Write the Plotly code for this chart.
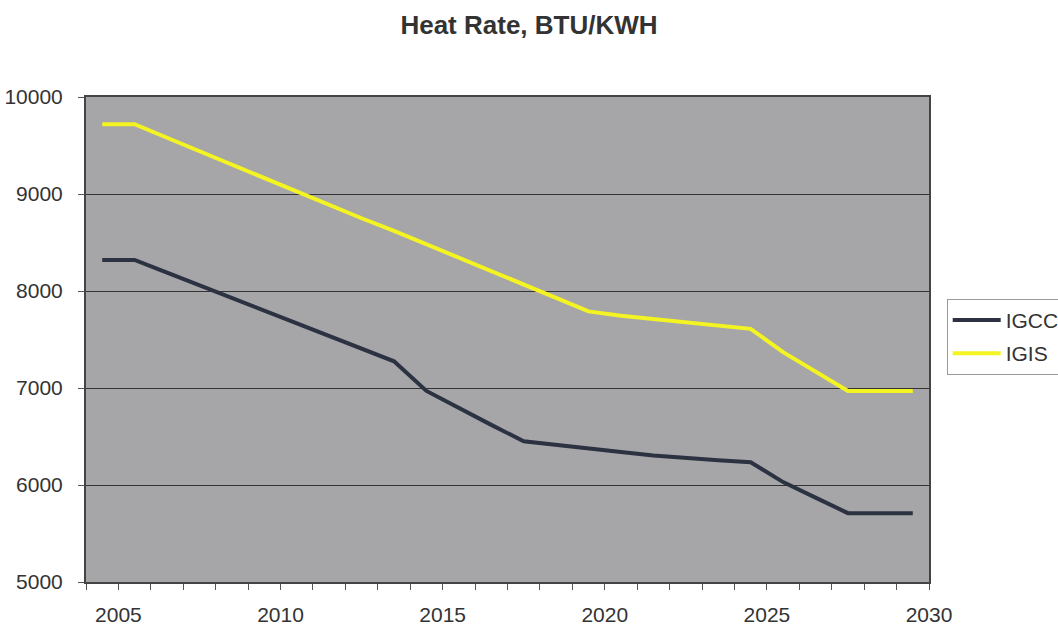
import plotly.graph_objects as go

years = list(range(2005, 2031))
igcc = [8320, 8320, 8190, 8060, 7930, 7800, 7670, 7540, 7410, 7275,
        6970, 6790, 6620, 6450, 6410, 6375, 6340, 6305, 6275, 6255,
        6235, 6030, 5870, 5710, 5710, 5710]
igis = [9720, 9720, 9580, 9440, 9300, 9170, 9030, 8890, 8750, 8620,
        8480, 8340, 8200, 8070, 7930, 7790, 7745, 7710, 7680, 7645,
        7610, 7370, 7170, 6970, 6970, 6970]
tick_years = list(range(2004, 2031))
label_years = [2005, 2010, 2015, 2020, 2025, 2030]
y_ticks = [5000, 6000, 7000, 8000, 9000, 10000]

FONT = "Liberation Sans, Arial, sans-serif"
xpos = [y - 0.5 for y in years]  # data plotted mid-category

fig = go.Figure()
fig.add_trace(go.Scatter(x=xpos, y=igcc, name="IGCC", mode="lines", legendgroup="a",
                         line=dict(color="#2c3242", width=4)))
fig.add_trace(go.Scatter(x=xpos, y=igis, name="IGIS", mode="lines", legendgroup="b",
                         line=dict(color="#f4f423", width=4)))

fig.update_layout(
    width=1058, height=625,
    paper_bgcolor="white", plot_bgcolor="#a6a6a8",
    margin=dict(l=86, r=129, t=97, b=43, autoexpand=False),
    title=dict(text="<b>Heat Rate, BTU/KWH</b>", x=0.5, xanchor="center",
               y=0.96, yanchor="middle",
               font=dict(family=FONT, size=26, color="#333333")),
    font=dict(family=FONT, size=21, color="#333333"),
    showlegend=True,
    legend=dict(x=1.021, y=0.584, xanchor="left", yanchor="top",
                bgcolor="white", bordercolor="#999999", borderwidth=1,
                font=dict(family=FONT, size=21, color="#333333"),
                itemwidth=48, tracegroupgap=3),
)
fig.update_xaxes(
    range=[2004, 2030], tickvals=tick_years,
    ticktext=[str(t) if t in label_years else "" for t in tick_years],
    ticks="outside", ticklen=6, tickcolor="#555555", tickwidth=1,
    showline=True, linecolor="#444444", linewidth=2, mirror=True,
    showgrid=False, zeroline=False, ticklabelstandoff=7, automargin=False,
)
fig.update_yaxes(
    range=[5000, 10000], tickvals=y_ticks, ticktext=[str(v) for v in y_ticks],
    ticks="outside", ticklen=6, tickcolor="#555555", tickwidth=1,
    showline=True, linecolor="#444444", linewidth=2, mirror=True,
    showgrid=True, gridcolor="#333333", gridwidth=1, zeroline=False,
    ticklabelstandoff=11, automargin=False,
)
fig.write_html("out.html", config={"displayModeBar": False},
               post_script="document.body.style.margin='0px';document.body.style.overflow='hidden';")
